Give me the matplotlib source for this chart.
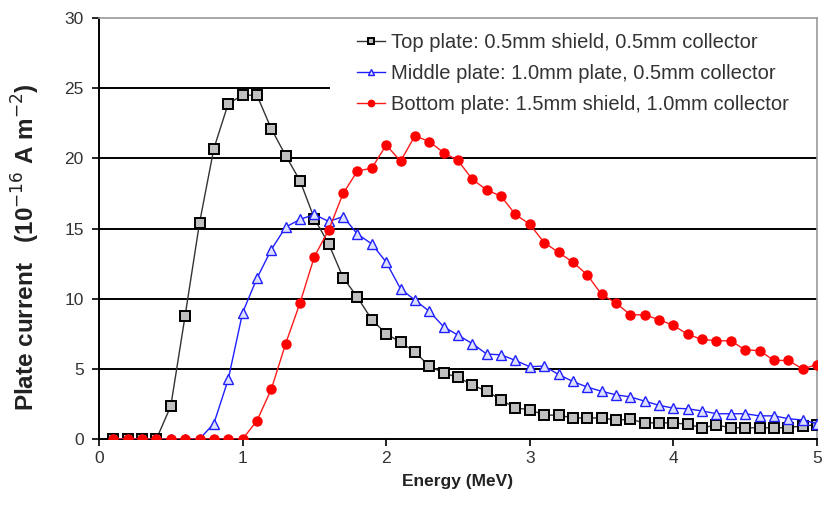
import matplotlib
matplotlib.use("Agg")
import matplotlib.pyplot as plt
from matplotlib.patches import Rectangle

plt.rcParams["font.family"] = ["Liberation Sans", "DejaVu Sans"]

# 에너지 (MeV), 0.1 간격
energy = [0.1, 0.2, 0.3, 0.4, 0.5, 0.6, 0.7, 0.8, 0.9, 1.0,
          1.1, 1.2, 1.3, 1.4, 1.5, 1.6, 1.7, 1.8, 1.9, 2.0,
          2.1, 2.2, 2.3, 2.4, 2.5, 2.6, 2.7, 2.8, 2.9, 3.0,
          3.1, 3.2, 3.3, 3.4, 3.5, 3.6, 3.7, 3.8, 3.9, 4.0,
          4.1, 4.2, 4.3, 4.4, 4.5, 4.6, 4.7, 4.8, 4.9, 5.0]

top_plate = [0, 0, 0, 0, 2.35, 8.8, 15.4, 20.7, 23.9, 24.5,
             24.5, 22.1, 20.2, 18.4, 15.7, 13.9, 11.5, 10.1, 8.5, 7.5,
             6.9, 6.2, 5.2, 4.7, 4.4, 3.85, 3.4, 2.8, 2.2, 2.1,
             1.7, 1.7, 1.5, 1.5, 1.5, 1.35, 1.4, 1.15, 1.15, 1.15,
             1.05, 0.8, 1.0, 0.8, 0.8, 0.8, 0.8, 0.8, 0.95, 1.0]

middle_plate = [0, 0, 0, 0, 0, 0, 0, 1.1, 4.25, 9.0,
                11.45, 13.5, 15.1, 15.65, 16.0, 15.5, 15.85, 14.6, 13.9, 12.6,
                10.7, 9.9, 9.1, 8.0, 7.4, 6.8, 6.05, 6.0, 5.6, 5.15,
                5.2, 4.6, 4.1, 3.7, 3.4, 3.15, 3.0, 2.7, 2.4, 2.2,
                2.15, 2.0, 1.8, 1.8, 1.8, 1.65, 1.65, 1.45, 1.35, 1.1]

bottom_plate = [0, 0, 0, 0, 0, 0, 0, 0, 0, 0,
                1.3, 3.55, 6.8, 9.7, 13.0, 14.9, 17.5, 19.1, 19.3, 20.95,
                19.8, 21.6, 21.2, 20.4, 19.85, 18.5, 17.75, 17.3, 16.0, 15.3,
                14.0, 13.3, 12.6, 11.7, 10.3, 9.7, 8.85, 8.85, 8.5, 8.1,
                7.45, 7.1, 7.0, 7.0, 6.35, 6.3, 5.6, 5.6, 5.0, 5.3]

labels = ["Top plate: 0.5mm shield, 0.5mm collector",
          "Middle plate: 1.0mm plate, 0.5mm collector",
          "Bottom plate: 1.5mm shield, 1.0mm collector"]

fig = plt.figure(figsize=(8.34, 5.16), dpi=100)
ax = fig.add_axes([0.1187, 0.1492, 0.9796 - 0.1187, 0.9651 - 0.1492])

ax.plot(energy, top_plate, color="#333333", lw=1.0, marker="s", ms=7,
        mfc="#c0c0c0", mec="black", mew=1.4, label=labels[0], zorder=3)
ax.plot(energy, middle_plate, color="#1f1fff", lw=1.0, marker="^", ms=6.5,
        mfc="#dde0ff", mec="#1f1fff", mew=1.0, label=labels[1], zorder=4)
ax.plot(energy, bottom_plate, color="#ff1a1a", lw=1.0, marker="o", ms=6.5,
        mfc="#ff0000", mec="#ff0000", label=labels[2], zorder=5)

ax.set_xlim(0, 5)
ax.set_ylim(0, 30)
ax.set_xticks(range(0, 6))
ax.set_yticks(range(0, 31, 5))
ax.tick_params(axis="both", direction="out", length=5, width=1.2,
               labelsize=12.5, colors="black", labelcolor="#333333")
ax.tick_params(axis="y", pad=6)

for y in range(5, 30, 5):
    ax.axhline(y, color="black", lw=1.4, zorder=1)

for side in ("left", "bottom"):
    ax.spines[side].set_color("black")
    ax.spines[side].set_linewidth(1.4)
for side in ("top", "right"):
    ax.spines[side].set_color("#999999")
    ax.spines[side].set_linewidth(1.2)

ax.set_xlabel("Energy (MeV)", fontsize=12.5, fontweight="bold", color="#222222", labelpad=6)
ax.set_ylabel("Plate current   (10$^{-16}$ A m$^{-2}$)", fontsize=17.5,
              fontweight="bold", color="#222222")
ax.yaxis.set_label_coords(-0.079, 0.456)

# 범례 뒤 흰 배경 (격자선 가림)
ax.add_patch(Rectangle((0.3217, 0.762), 0.6783, 0.235, transform=ax.transAxes,
                       facecolor="white", edgecolor="none", zorder=2))

leg = ax.legend(loc="upper left", bbox_to_anchor=(0.3593, 0.9644), borderaxespad=0,
                frameon=False, fontsize=14.5, handlelength=1.4, handletextpad=0.28,
                labelspacing=0.6, borderpad=0, markerscale=0.7)
leg.set_zorder(10)
for t in leg.get_texts():
    t.set_color("#333333")

fig.savefig("out.png", dpi=100)
